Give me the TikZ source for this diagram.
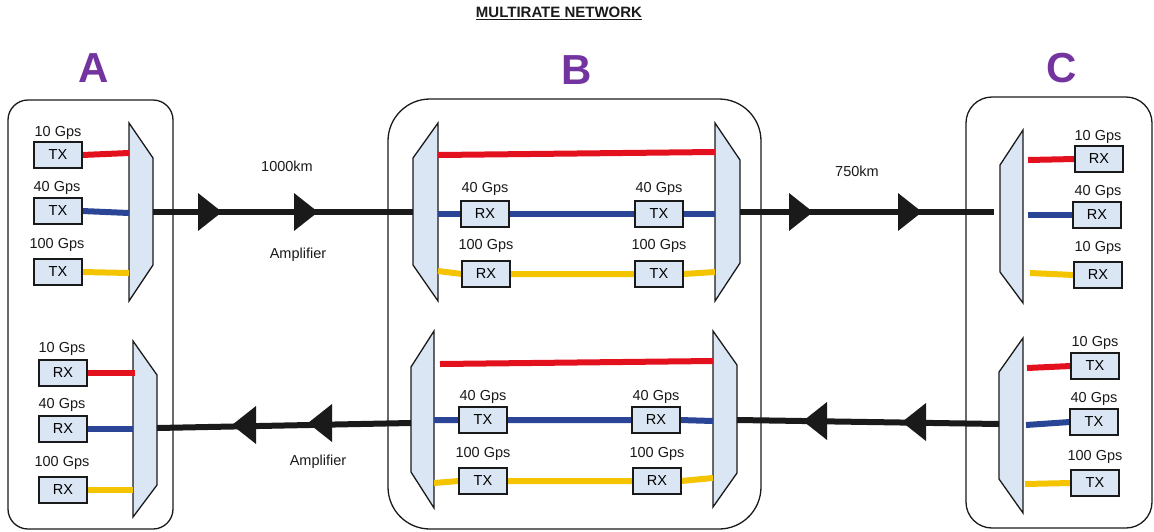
\documentclass[tikz,border=0pt]{standalone}
\usepackage{fontspec}
\setmainfont{Liberation Sans}
\definecolor{sigred}{HTML}{E3101E}
\definecolor{sigblue}{HTML}{2B4596}
\definecolor{sigyellow}{HTML}{F5C400}
\definecolor{boxfill}{HTML}{DAE6F4}
\definecolor{trunkc}{HTML}{1A1A1A}
\definecolor{sitepurple}{HTML}{7434A0}
\tikzset{
  site/.style={draw=trunkc, line width=1.3pt, rounded corners=#1},
  unit/.style={draw=trunkc, fill=boxfill, line width=1.3pt, minimum width=47pt,
    minimum height=25pt, inner sep=0pt, font=\fontsize{14.5}{16}\selectfont},
  muxshape/.style={draw=trunkc, fill=boxfill, line width=1.3pt, line join=miter},
  rate/.style={inner sep=0pt, text=trunkc, font=\fontsize{14.5}{16}\selectfont},
  sitename/.style={inner sep=0pt, text=sitepurple, font=\fontsize{42}{44}\selectfont\bfseries},
  trunk/.style={draw=trunkc, line width=6pt},
  red sig/.style={draw=sigred, line width=6pt},
  blue sig/.style={draw=sigblue, line width=6pt},
  yellow sig/.style={draw=sigyellow, line width=6pt},
  amp/.pic={\fill[trunkc] (-12,-19) -- (12,0) -- (-12,19) -- cycle;}
}
\begin{document}
\begin{tikzpicture}[x=1pt,y=-1pt]
\useasboundingbox (0,0) rectangle (1154,531);

% title and site names
\node[inner sep=0pt, font=\fontsize{15}{17}\selectfont\bfseries, text=trunkc] (title) at (559,13) {\underline{MULTIRATE NETWORK}};
\node[sitename] (nameA) at (94,68) {A};
\node[sitename] (nameB) at (577,70) {B};
\node[sitename] (nameC) at (1062,68) {C};

% site enclosures
\draw[site=20pt] (8,100) rectangle (173,529);
\draw[site=42pt] (388,99) rectangle (761,529);
\draw[site=26pt] (966,97) rectangle (1152,528);

% ---------- multiplexers ----------
% site A
\draw[muxshape] (129,123) -- (153,158) -- (153,265) -- (129,301) -- cycle;
\draw[muxshape] (133,341) -- (157,375) -- (157,485) -- (133,517) -- cycle;
% site B
\draw[muxshape] (438,123) -- (413,158) -- (413,265) -- (438,301) -- cycle;
\draw[muxshape] (715,123) -- (740,160) -- (740,263) -- (715,301) -- cycle;
\draw[muxshape] (434,331) -- (411,367) -- (411,472) -- (434,508) -- cycle;
\draw[muxshape] (713,331) -- (737,365) -- (737,473) -- (713,507) -- cycle;
% site C
\draw[muxshape] (1023,130) -- (1000,165) -- (1000,272) -- (1023,303) -- cycle;
\draw[muxshape] (1023,338) -- (999,372) -- (999,479) -- (1023,513) -- cycle;

% mux ports
\coordinate (mA1r) at (129,153);  \coordinate (mA1b) at (129,213);  \coordinate (mA1y) at (129,273);
\coordinate (mA1o) at (153,212);
\coordinate (mA2r) at (135,373);  \coordinate (mA2b) at (133,429);  \coordinate (mA2y) at (133,490);
\coordinate (mA2o) at (157,428);
\coordinate (mB1i) at (413,212);  \coordinate (mB1r) at (438,155);  \coordinate (mB1b) at (438,214);  \coordinate (mB1y) at (438,271);
\coordinate (mB2o) at (740,212);  \coordinate (mB2r) at (715,152);  \coordinate (mB2b) at (715,214);  \coordinate (mB2y) at (715,272);
\coordinate (mB3o) at (411,423);  \coordinate (mB3r) at (440,364);  \coordinate (mB3b) at (434,420);  \coordinate (mB3y) at (434,483);
\coordinate (mB4i) at (737,420);  \coordinate (mB4r) at (713,361);  \coordinate (mB4b) at (713,421);  \coordinate (mB4y) at (713,478);
\coordinate (mC1i) at (994,212);  \coordinate (mC1r) at (1028,160); \coordinate (mC1b) at (1028,215); \coordinate (mC1y) at (1030,273);
\coordinate (mC2o) at (999,424);  \coordinate (mC2r) at (1027,368); \coordinate (mC2b) at (1026,425); \coordinate (mC2y) at (1025,484);

% ---------- transceivers ----------
% site A
\node[unit] (txA1) at (58,155) {TX};  \node[rate] (lA1) at (58,133) {10 Gps};
\node[unit] (txA2) at (58,211) {TX};  \node[rate] (lA2) at (57,188) {40 Gps};
\node[unit] (txA3) at (58,272) {TX};  \node[rate] (lA3) at (57,245) {100 Gps};
\node[unit] (rxA1) at (63,373) {RX};  \node[rate] (lA4) at (62,349) {10 Gps};
\node[unit] (rxA2) at (63,429) {RX};  \node[rate] (lA5) at (62,405) {40 Gps};
\node[unit] (rxA3) at (63,490) {RX};  \node[rate] (lA6) at (62,463) {100 Gps};
% site B
\node[unit] (rxB1) at (485,214) {RX}; \node[rate] (lB1) at (485,189) {40 Gps};
\node[unit] (txB1) at (659,214) {TX}; \node[rate] (lB2) at (659,189) {40 Gps};
\node[unit] (rxB2) at (486,274) {RX}; \node[rate] (lB3) at (486,246) {100 Gps};
\node[unit] (txB2) at (659,274) {TX}; \node[rate] (lB4) at (659,246) {100 Gps};
\node[unit] (txB3) at (483,420) {TX}; \node[rate] (lB5) at (483,397) {40 Gps};
\node[unit] (rxB3) at (656,420) {RX}; \node[rate] (lB6) at (656,397) {40 Gps};
\node[unit] (txB4) at (483,481) {TX}; \node[rate] (lB7) at (483,454) {100 Gps};
\node[unit] (rxB4) at (657,481) {RX}; \node[rate] (lB8) at (657,454) {100 Gps};
% site C
\node[unit] (rxC1) at (1099,159) {RX}; \node[rate] (lC1) at (1098,137) {10 Gps};
\node[unit] (rxC2) at (1097,215) {RX}; \node[rate] (lC2) at (1098,192) {40 Gps};
\node[unit] (rxC3) at (1098,275) {RX}; \node[rate] (lC3) at (1098,248) {10 Gps};
\node[unit] (txC1) at (1095,366) {TX}; \node[rate] (lC4) at (1095,343) {10 Gps};
\node[unit] (txC2) at (1094,422) {TX}; \node[rate] (lC5) at (1094,399) {40 Gps};
\node[unit] (txC3) at (1095,483) {TX}; \node[rate] (lC6) at (1095,457) {100 Gps};

% ---------- tributary signals ----------
\draw[red sig]    (txA1.east) -- (mA1r);
\draw[blue sig]   (txA2.east) -- (mA1b);
\draw[yellow sig] (txA3.east) -- (mA1y);
\draw[red sig]    (rxA1.east) -- (mA2r);
\draw[blue sig]   (rxA2.east) -- (mA2b);
\draw[yellow sig] (rxA3.east) -- (mA2y);

\draw[red sig]    (mB1r) -- (mB2r);
\draw[blue sig]   (mB1b) -- (rxB1.west) (rxB1.east) -- (txB1.west) (txB1.east) -- (mB2b);
\draw[yellow sig] (mB1y) -- (rxB2.west) (rxB2.east) -- (txB2.west) (txB2.east) -- (mB2y);
\draw[red sig]    (mB3r) -- (mB4r);
\draw[blue sig]   (mB3b) -- (txB3.west) (txB3.east) -- (rxB3.west) (rxB3.east) -- (mB4b);
\draw[yellow sig] (mB3y) -- (txB4.west) (txB4.east) -- (rxB4.west) (rxB4.east) -- (mB4y);

\draw[red sig]    (mC1r) -- (rxC1.west);
\draw[blue sig]   (mC1b) -- (rxC2.west);
\draw[yellow sig] (mC1y) -- (rxC3.west);
\draw[red sig]    (mC2r) -- (txC1.west);
\draw[blue sig]   (mC2b) -- (txC2.west);
\draw[yellow sig] (mC2y) -- (txC3.west);

% redraw unit boxes over the signal ends
\foreach \u in {txA1,txA2,txA3,rxA1,rxA2,rxA3,rxB1,txB1,rxB2,txB2,txB3,rxB3,txB4,rxB4,rxC1,rxC2,rxC3,txC1,txC2,txC3}
  \draw[line width=1.3pt, trunkc] (\u.north west) rectangle (\u.south east);

% ---------- trunk fibres with amplifiers ----------
\draw[trunk] (mA1o) -- (mB1i);
\pic at (210,212) {amp};
\pic at (306,212) {amp};
\node[rate] (dist1) at (287,166) {1000km};
\node[rate] (ampl1) at (298,255) {Amplifier};

\draw[trunk] (mB2o) -- (mC1i);
\pic at (801,212) {amp};
\pic at (910,212) {amp};
\node[rate] (dist2) at (857,171) {750km};

\draw[trunk] (mC2o) -- (mB4i);
\pic[rotate=180] at (914,422) {amp};
\pic[rotate=180] at (815,421) {amp};

\draw[trunk] (mB3o) -- (mA2o);
\pic[rotate=180] at (320,423) {amp};
\pic[rotate=180] at (244,425) {amp};
\node[rate] (ampl2) at (318,462) {Amplifier};
\end{tikzpicture}
\end{document}
